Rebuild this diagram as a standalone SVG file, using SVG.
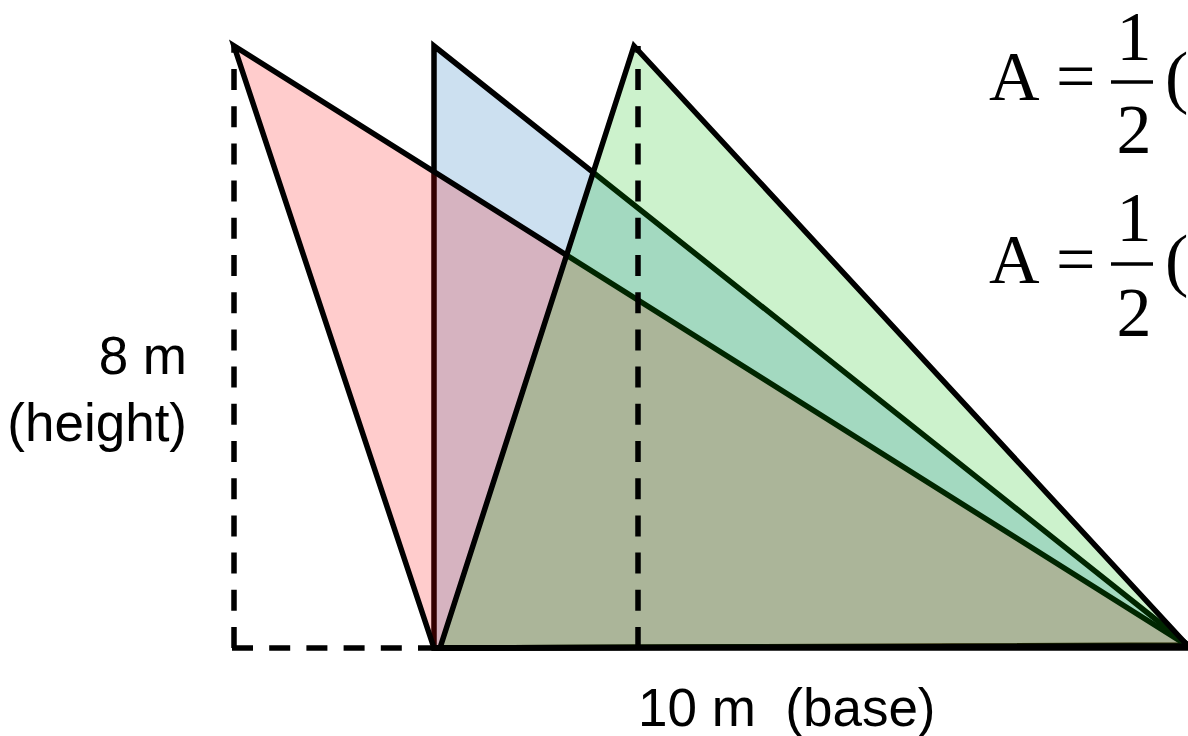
<svg xmlns="http://www.w3.org/2000/svg" width="1188" height="736" viewBox="0 0 1188 736">
<style>
.tri{stroke:#000;stroke-width:5.5;stroke-linejoin:miter}
.dash{fill:none;stroke:#000;stroke-width:5.5;stroke-dasharray:21 16.2}
.lbl{font-family:"Liberation Sans",Arial,sans-serif;font-size:53px;fill:#000}
.eq{font-family:"Liberation Serif","Times New Roman",serif;font-size:70px;fill:#000}
</style>
<rect width="1188" height="736" fill="#fff"/>
<g id="triangle-blue"><polygon class="tri" points="434,46 434,648 1188,645" fill="rgb(0,100,180)" fill-opacity="0.2"/></g>
<g id="triangle-red"><polygon class="tri" points="234,46 434,648 1188,646" fill="rgb(255,0,0)" fill-opacity="0.2"/></g>
<g id="triangle-green"><polygon class="tri" points="634,46 440,648 1188,646" fill="rgb(0,190,0)" fill-opacity="0.2"/></g>
<g id="connectors">
<line class="dash" x1="234" y1="648" x2="234" y2="46"/>
<line class="dash" x1="232" y1="648" x2="440" y2="648"/>
<line class="dash" x1="638" y1="648" x2="638" y2="46"/>
<line x1="434" y1="648" x2="1188" y2="648" stroke="#000" stroke-width="5.5"/>
</g>
<g id="label-height">
<text class="lbl" x="187" y="374" text-anchor="end">8 m</text>
<text class="lbl" x="187" y="441" text-anchor="end">(height)</text>
</g>
<g id="label-base"><text class="lbl" x="638" y="726" xml:space="preserve">10 m  (base)</text></g>
<g id="formula-1">
<text class="eq" x="989" y="100">A</text>
<text class="eq" x="1056" y="100">=</text>
<text class="eq" x="1134" y="60" text-anchor="middle">1</text>
<line x1="1111" y1="82" x2="1153" y2="82" stroke="#000" stroke-width="3.5"/>
<text class="eq" x="1134" y="153" text-anchor="middle">2</text>
<text class="eq" x="1165" y="100">(</text>
</g>
<g id="formula-2">
<text class="eq" x="989" y="283">A</text>
<text class="eq" x="1056" y="283">=</text>
<text class="eq" x="1134" y="241" text-anchor="middle">1</text>
<line x1="1111" y1="264" x2="1153" y2="264" stroke="#000" stroke-width="3.5"/>
<text class="eq" x="1134" y="336" text-anchor="middle">2</text>
<text class="eq" x="1165" y="283">(</text>
</g>
</svg>
